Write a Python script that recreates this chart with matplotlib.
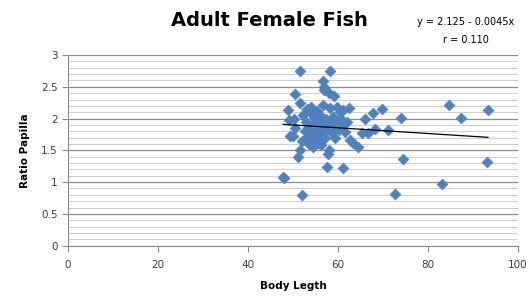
import matplotlib.pyplot as plt
from matplotlib.ticker import MultipleLocator

# body length vs ratio papilla
body_length = [
    47.8, 48.0, 49.0, 49.2, 49.4, 50.1, 50.2, 50.4, 50.4, 51.2,
    51.6, 51.6, 51.6, 51.9, 51.9, 52.3, 52.6, 52.8, 53.0, 53.2,
    53.5, 53.6, 53.8, 54.0, 54.1, 54.2, 54.4, 54.5, 54.7, 54.9,
    55.0, 55.2, 55.3, 55.5, 55.6, 55.8, 56.0, 56.1, 56.3, 56.4,
    56.6, 56.6, 56.8, 56.9, 56.9, 57.0, 57.2, 57.3, 57.5, 57.6,
    57.8, 58.0, 58.1, 58.2, 58.2, 58.4, 58.6, 58.8, 59.0, 59.2,
    59.4, 59.7, 59.9, 60.2, 60.4, 60.6, 61.0, 61.2, 61.2, 61.6,
    62.0, 62.5, 62.7, 63.4, 64.5, 65.3, 66.0, 66.7, 67.8, 68.2,
    69.7, 71.0, 72.7, 74.1, 74.4, 83.0, 84.7, 87.3, 93.2, 93.3,
]
ratio_papilla = [
    1.08, 1.06, 2.13, 1.98, 1.72, 1.72, 2.00, 2.38, 1.85, 1.40,
    2.75, 2.24, 1.50, 0.80, 1.65, 2.05, 1.80, 1.95, 1.70, 2.15,
    1.88, 1.60, 2.10, 1.75, 2.19, 1.92, 1.55, 1.82, 2.02, 1.68,
    1.90, 1.78, 2.12, 1.62, 1.95, 1.85, 1.72, 2.05, 1.58, 1.88,
    2.59, 2.21, 1.80, 2.50, 1.95, 2.45, 1.70, 2.00, 1.24, 1.85,
    1.45, 2.40, 1.50, 2.75, 2.16, 1.92, 1.78, 2.02, 2.36, 1.88,
    1.70, 2.19, 1.95, 1.82, 2.10, 2.00, 1.23, 2.13, 1.90, 1.79,
    1.95, 2.16, 1.66, 1.61, 1.56, 1.78, 1.99, 1.78, 2.09, 1.83,
    2.15, 1.82, 0.81, 2.01, 1.37, 0.97, 2.22, 2.01, 1.32, 2.14,
]
intercept = 2.125
slope = -0.0045

fig = plt.figure(figsize=(5.26, 2.96), dpi=100)
ax = fig.add_axes([0.129, 0.170, 0.856, 0.644])

ax.scatter(body_length, ratio_papilla, marker='D', s=30, color='#4F81BD',
           edgecolors='#4F81BD', linewidths=0.5, zorder=3)

x0, x1 = min(body_length), max(body_length)
ax.plot([x0, x1], [intercept + slope * x0, intercept + slope * x1],
        color='black', linewidth=0.9, zorder=4)

ax.set_xlim(0, 100)
ax.set_ylim(0, 3)
ax.xaxis.set_major_locator(MultipleLocator(20))
ax.yaxis.set_minor_locator(MultipleLocator(0.1))
ax.set_yticks([0, 0.5, 1, 1.5, 2, 2.5, 3])
ax.set_yticklabels(['0', '0.5', '1', '1.5', '2', '2.5', '3'])

ax.grid(axis='y', which='major', color='#8c8c8c', linewidth=0.9, zorder=0)
ax.grid(axis='y', which='minor', color='#d0d0d0', linewidth=0.8, zorder=0)
ax.set_axisbelow(True)

for side in ('top', 'right'):
    ax.spines[side].set_visible(False)
for side in ('left', 'bottom'):
    ax.spines[side].set_color('#8c8c8c')
ax.tick_params(axis='both', which='major', labelsize=7.5, colors='#8c8c8c',
               labelcolor='#404040', length=4)
ax.tick_params(axis='y', which='minor', length=0)
ax.tick_params(axis='x', pad=6)

ax.set_xlabel('Body Legth', fontsize=7.5, fontweight='bold', labelpad=8)
ax.set_ylabel('Ratio Papilla', fontsize=7.5, fontweight='bold', labelpad=8)

fig.text(0.513, 0.93, 'Adult Female Fish', fontsize=14, fontweight='bold',
         ha='center', va='center')
fig.text(0.885, 0.925, 'y = 2.125 - 0.0045x', fontsize=7, ha='center', va='center')
fig.text(0.885, 0.865, 'r = 0.110', fontsize=7, ha='center', va='center')

fig.savefig('out.png', dpi=100)
